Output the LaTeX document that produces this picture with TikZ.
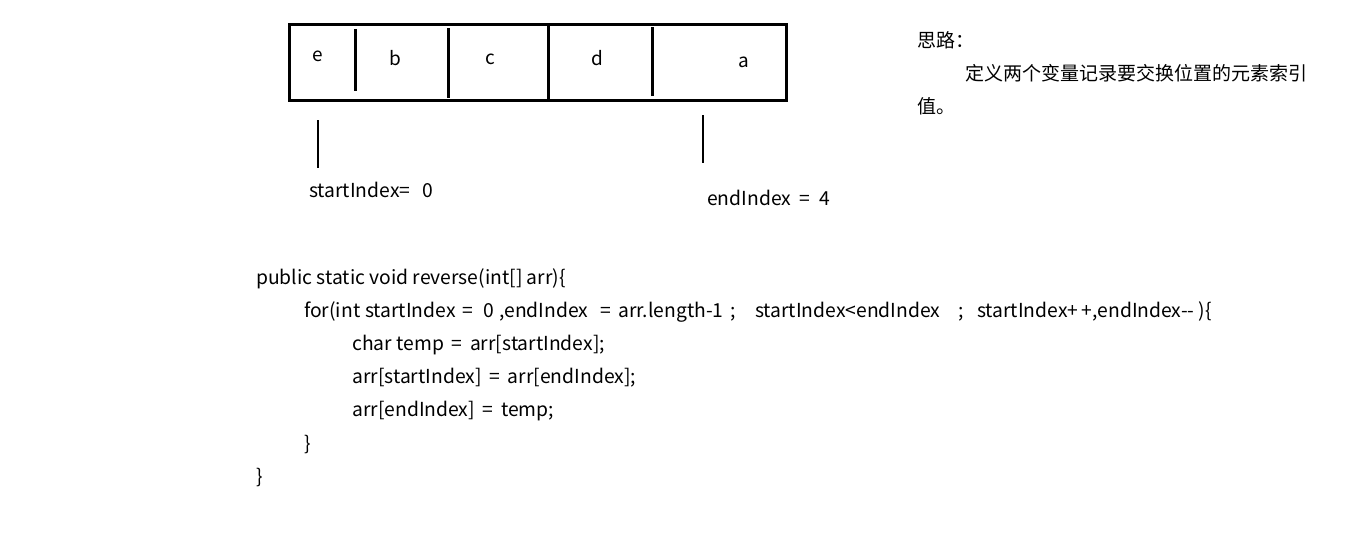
\documentclass[tikz,border=0pt]{standalone}
\usepackage{fontspec}
\setmainfont{Noto Sans CJK SC}
\newcommand{\seg}[2]{\makebox[#1pt][l]{#2}}
\begin{document}
\begin{tikzpicture}[x=1pt,y=-1pt,
  thick line/.style={line width=3pt},
  cell/.style={font=\fontsize{19}{22}\selectfont, inner sep=0pt, anchor=center},
  txt/.style={font=\fontsize{19.3}{22}\selectfont, inner sep=0pt, anchor=west},
  cjk/.style={font=\fontsize{19}{22}\selectfont, inner sep=0pt, anchor=west},
  code/.style={font=\fontsize{19.3}{22}\selectfont, inner sep=0pt, anchor=west}]
\useasboundingbox[fill=white] (0,0) rectangle (1359,541);
% array box
\draw[thick line] (289,24) rectangle (786,100);
\draw[thick line] (355,29) -- (355,91);
\draw[thick line] (448,28) -- (448,98);
\draw[thick line] (548,24) -- (548,100);
\draw[thick line] (652,27) -- (652,96);
\node[cell] (ce) at (318,56) {e};
\node[cell] (cb) at (395,58) {b};
\node[cell] (cc) at (490,59) {c};
\node[cell] (cd) at (597,58) {d};
\node[cell] (ca) at (744,62) {a};
% markers
\coordinate (s1) at (318,120); \coordinate (s2) at (318,168);
\coordinate (e1) at (703,115); \coordinate (e2) at (703,163);
\draw[line width=2.5pt] (s1) -- (s2);
\draw[line width=2.5pt] (e1) -- (e2);
\node[txt] (sl) at (309,190) {startIndex=\hspace{0.6em}0};
\node[txt] (el) at (707,198) {endIndex\hspace{0.45em}=\hspace{0.45em}4};
% idea
\node[cjk] (t1) at (917,40) {思路：};
\node[cjk] (t2) at (965,73) {定义两个变量记录要交换位置的元素索引};
\node[cjk] (t3) at (917,106) {值。};
% code
\node[code] (l1) at (256,279) {public static void reverse(int[] arr)\{};
\node[code] (l2) at (304,312) {\seg{61}{for(int}\seg{97}{startIndex}\seg{21}{=}\seg{16}{0}\seg{101}{,endIndex}\seg{18}{=}\seg{112}{arr.length-1}\seg{25}{;}\seg{203}{startIndex<endIndex}\seg{19}{;}startIndex+\,+,endIndex-{}- )\{};
\node[code] (l3) at (352,345) {char temp\hspace{0.4em}=\hspace{0.4em}arr[startIndex];};
\node[code] (l4) at (352,378) {arr[startIndex]\hspace{0.4em}=\hspace{0.4em}arr[endIndex];};
\node[code] (l5) at (352,411) {arr[endIndex]\hspace{0.4em}=\hspace{0.4em}temp;};
\node[code] (l6) at (304,444) {\}};
\node[code] (l7) at (256,477) {\}};
\end{tikzpicture}
\end{document}
